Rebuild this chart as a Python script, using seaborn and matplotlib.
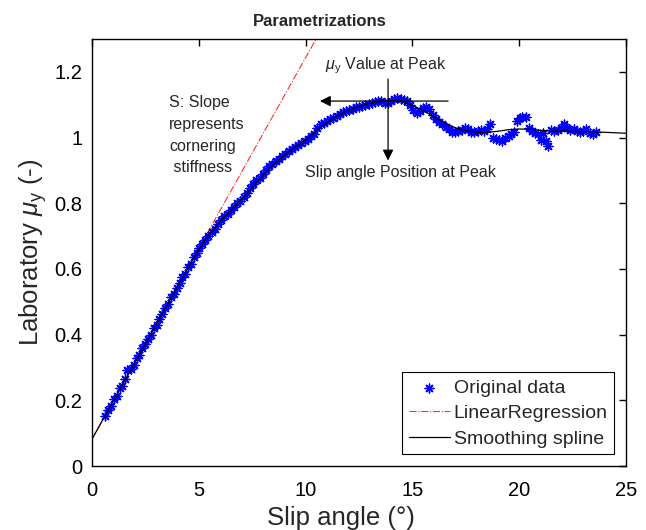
import numpy as np
import pandas as pd
import matplotlib
matplotlib.use("Agg")
import matplotlib.pyplot as plt
import seaborn as sns

# ---- data ----
data_x = [0.62, 0.75, 0.90, 1.02, 1.15, 1.30, 1.42, 1.55, 1.64, 1.83, 1.95, 2.10, 2.22, 2.36, 2.50,
          2.62, 2.75, 2.90, 3.02, 3.15, 3.30, 3.42, 3.55, 3.70, 3.82, 3.96, 4.10, 4.22, 4.35, 4.50,
          4.62, 4.76, 4.90, 5.02, 5.15, 5.30, 5.45, 5.60, 5.75, 5.90, 6.05, 6.20, 6.35, 6.50, 6.65,
          6.80, 6.95, 7.10, 7.25, 7.40, 7.55, 7.70, 7.85, 8.00, 8.15, 8.30, 8.45, 8.60, 8.75, 8.90,
          9.05, 9.20, 9.35, 9.50, 9.65, 9.80, 9.95, 10.10, 10.25, 10.40, 10.55, 10.70, 10.85, 11.00,
          11.15, 11.30, 11.45, 11.60, 11.75, 11.90, 12.05, 12.20, 12.35, 12.50, 12.65, 12.80, 12.95,
          13.10, 13.25, 13.40, 13.55, 13.70, 13.85, 14.00, 14.15, 14.30, 14.45, 14.60, 14.75, 14.90,
          15.05, 15.20, 15.35, 15.50, 15.65, 15.80, 15.95, 16.10, 16.25, 16.40, 16.55, 16.70, 16.85,
          17.00, 17.15, 17.30, 17.45, 17.60, 17.75, 17.90, 18.05, 18.20, 18.35, 18.50, 18.62, 18.75,
          18.90, 19.05, 19.20, 19.35, 19.50, 19.62, 19.75, 19.90, 20.05, 20.15, 20.30, 20.45, 20.60,
          20.75, 20.90, 21.00, 21.12, 21.25, 21.35, 21.50, 21.65, 21.80, 21.95, 22.10, 22.25, 22.40,
          22.55, 22.70, 22.85, 23.00, 23.15, 23.30, 23.45, 23.60]
data_y = [0.152, 0.171, 0.184, 0.203, 0.213, 0.236, 0.245, 0.264, 0.292, 0.296, 0.306, 0.328, 0.338,
          0.358, 0.370, 0.388, 0.399, 0.420, 0.430, 0.449, 0.463, 0.481, 0.492, 0.513, 0.523, 0.543,
          0.556, 0.574, 0.585, 0.606, 0.616, 0.636, 0.648, 0.664, 0.676, 0.688, 0.700, 0.712, 0.722,
          0.737, 0.748, 0.760, 0.768, 0.780, 0.789, 0.800, 0.808, 0.820, 0.832, 0.846, 0.860, 0.870,
          0.878, 0.888, 0.900, 0.912, 0.920, 0.928, 0.936, 0.944, 0.950, 0.958, 0.964, 0.970, 0.978,
          0.984, 0.990, 0.997, 1.004, 1.012, 1.030, 1.040, 1.044, 1.050, 1.055, 1.060, 1.066, 1.072,
          1.078, 1.082, 1.085, 1.088, 1.092, 1.094, 1.097, 1.100, 1.102, 1.105, 1.107, 1.110, 1.110,
          1.106, 1.104, 1.112, 1.118, 1.120, 1.116, 1.114, 1.110, 1.100, 1.085, 1.075, 1.080, 1.090,
          1.092, 1.086, 1.070, 1.055, 1.048, 1.040, 1.032, 1.025, 1.018, 1.016, 1.020, 1.022, 1.030,
          1.026, 1.018, 1.016, 1.020, 1.022, 1.020, 1.025, 1.040, 1.000, 0.995, 0.992, 0.990, 0.998,
          1.005, 1.010, 1.018, 1.050, 1.058, 1.062, 1.062, 1.030, 1.020, 1.015, 1.012, 0.992, 1.014,
          0.990, 0.975, 1.022, 1.020, 1.022, 1.030, 1.040, 1.028, 1.022, 1.026, 1.020, 1.016, 1.020,
          1.026, 1.014, 1.010, 1.018]

reg_x = [0.0, 10.49]
reg_y = [0.082, 1.30]

spline_x = [0, 1, 2, 3, 4, 5, 5.5, 6, 6.5, 7, 7.5, 8, 8.5, 9, 9.5, 10, 10.5, 11, 11.5, 12, 12.5,
            13, 13.5, 14, 14.5, 15, 15.5, 16, 16.5, 17, 17.5, 18, 18.5, 19, 19.5, 20, 20.5, 21,
            21.5, 22, 22.5, 23, 23.5, 24, 25]
spline_y = [0.082, 0.198, 0.314, 0.430, 0.546, 0.660, 0.707, 0.745, 0.778, 0.812, 0.847, 0.885,
            0.918, 0.946, 0.970, 0.993, 1.020, 1.046, 1.066, 1.083, 1.095, 1.104, 1.110, 1.113,
            1.110, 1.098, 1.082, 1.064, 1.045, 1.030, 1.021, 1.016, 1.016, 1.019, 1.024, 1.026,
            1.025, 1.022, 1.020, 1.020, 1.019, 1.018, 1.017, 1.016, 1.013]

x_ticks = [0, 5, 10, 15, 20, 25]
y_ticks = [0, 0.2, 0.4, 0.6, 0.8, 1.0, 1.2]
y_tick_labels = ["0", "0.2", "0.4", "0.6", "0.8", "1", "1.2"]

# ---- style ----
sns.set_theme(style="white")
plt.rcParams["font.family"] = ["Liberation Sans", "DejaVu Sans"]
plt.rcParams["mathtext.fontset"] = "custom"
plt.rcParams["mathtext.rm"] = "Liberation Sans"
plt.rcParams["mathtext.it"] = "Liberation Sans:italic"

fig = plt.figure(figsize=(6.46, 5.30), dpi=100)
ax = fig.add_axes([92 / 646, 64 / 530, 534 / 646, 427 / 530])

asterisk = (8, 2, 0)
df = pd.DataFrame({"x": data_x, "y": data_y})
sns.scatterplot(data=df, x="x", y="y", ax=ax, marker=asterisk, color="blue", s=40,
                edgecolor="blue", linewidth=1.0, label="Original data", zorder=3)
sns.lineplot(x=reg_x, y=reg_y, ax=ax, color="#ff3030", linestyle="-.", linewidth=0.8,
             label="LinearRegression", estimator=None, sort=False, zorder=2)
sns.lineplot(x=spline_x, y=spline_y, ax=ax, color="black", linewidth=0.9,
             label="Smoothing spline", estimator=None, sort=False, zorder=4)

ax.set_xlim(0, 25)
ax.set_ylim(0, 1.3)
ax.set_xticks(x_ticks)
ax.set_yticks(y_ticks)
ax.set_yticklabels(y_tick_labels)
ax.tick_params(direction="in", length=5, width=1, top=True, right=True,
               labelsize=14.5, colors="black")
ax.tick_params(axis="x", pad=11)
ax.tick_params(axis="y", pad=7)
for sp in ax.spines.values():
    sp.set_color("black")
    sp.set_linewidth(1.0)

ax.set_xlabel("Slip angle (°)", fontsize=18.5, labelpad=4, x=(341 - 92) / 534)
ax.set_ylabel(r"Laboratory $\mu_{\mathrm{y}}$ (-)", fontsize=18.5, labelpad=4)
ax.set_title("Parametrizations", fontsize=12, fontweight="bold", pad=9, x=(320 - 92) / 534)

# annotations
ax.text(3.6, 1.128, "S: Slope\nrepresents\ncornering\n stiffness", fontsize=11.5,
        va="top", ha="left", linespacing=1.55)
ax.text(10.9, 1.22, r"$\mu_{\mathrm{y}}$ Value at Peak", fontsize=11.5, va="center", ha="left")
ax.text(9.97, 0.895, "Slip angle Position at Peak", fontsize=11.5, va="center", ha="left")
ax.annotate("", xy=(10.67, 1.111), xytext=(16.67, 1.111),
            arrowprops=dict(arrowstyle="-|>", color="black", lw=0.9,
                            mutation_scale=16, shrinkA=0, shrinkB=0))
ax.annotate("", xy=(13.86, 0.930), xytext=(13.86, 1.178),
            arrowprops=dict(arrowstyle="-|>", color="black", lw=0.9,
                            mutation_scale=16, shrinkA=0, shrinkB=0))

leg = ax.legend(loc="lower right", fontsize=14, frameon=True, fancybox=False,
                edgecolor="black", framealpha=1, borderpad=0.35, labelspacing=0.4,
                handlelength=2.1, handletextpad=0.2, borderaxespad=0.6)
leg.get_frame().set_linewidth(0.8)

fig.savefig("out.png", dpi=100)
